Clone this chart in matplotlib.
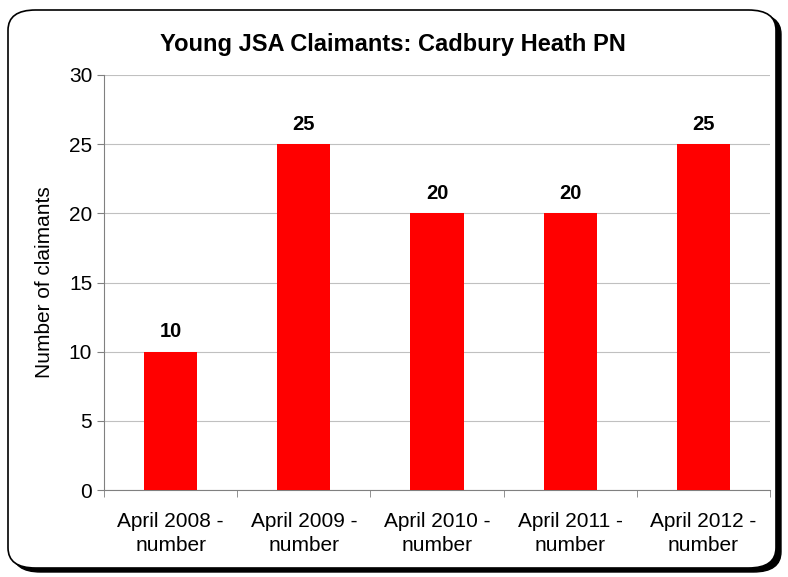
import matplotlib.pyplot as plt
from matplotlib.patches import FancyBboxPatch

plt.rcParams['font.family'] = ['Liberation Sans', 'DejaVu Sans']

categories = ["April 2008 -\nnumber", "April 2009 -\nnumber", "April 2010 -\nnumber",
              "April 2011 -\nnumber", "April 2012 -\nnumber"]
values = [10, 25, 20, 20, 25]

fig = plt.figure(figsize=(7.88, 5.77), dpi=100)

# rounded chart frame with a dark shadow on the right/bottom
shadow = FancyBboxPatch((13 / 788, 1 - 572 / 577), 768 / 788, 558 / 577,
                        boxstyle="round,pad=0,rounding_size=0.035",
                        transform=fig.transFigure, facecolor="black", edgecolor="black",
                        zorder=0)
frame = FancyBboxPatch((8 / 788, 1 - 568 / 577), 768 / 788, 558 / 577,
                       boxstyle="round,pad=0,rounding_size=0.035",
                       transform=fig.transFigure, facecolor="white", edgecolor="black",
                       linewidth=1.2, zorder=1)
fig.patches.extend([shadow, frame])

ax = fig.add_axes([104 / 788, 1 - 490 / 577, 666 / 788, 415 / 577])
ax.set_zorder(5)
ax.set_facecolor("none")
x = range(len(values))
bars = ax.bar(x, values, width=0.4, color="#ff0000", zorder=3)
for b, v in zip(bars, values):
    ax.text(b.get_x() + b.get_width() / 2, v + 0.75, str(v), ha="center", va="bottom",
            fontsize=14.5, fontweight="bold")

ax.set_xlim(-0.5, len(values) - 0.5)
ax.set_ylim(0, 30)
ax.set_yticks(range(0, 31, 5))
ax.tick_params(axis="y", labelsize=15, length=5, color="#808080", direction="out")
ax.set_xticks(list(x))
ax.set_xticklabels(categories, fontsize=15, linespacing=1.3)
ax.tick_params(axis="x", length=0, pad=16)
ax.set_xticks([i - 0.5 for i in range(len(values) + 1)], minor=True)
ax.tick_params(axis="x", which="minor", length=5, color="#808080")
ax.grid(axis="y", color="#c0c0c0", linewidth=0.8, zorder=0)
for s in ["top", "right"]:
    ax.spines[s].set_visible(False)
for s in ["left", "bottom"]:
    ax.spines[s].set_color("#808080")

ax.set_ylabel("Number of claimants", fontsize=15, labelpad=11)
fig.text(393 / 788, 1 - 45 / 577, "Young JSA Claimants: Cadbury Heath PN", ha="center",
         va="center", fontsize=17, fontweight="bold")

fig.savefig("out.png", dpi=100)
